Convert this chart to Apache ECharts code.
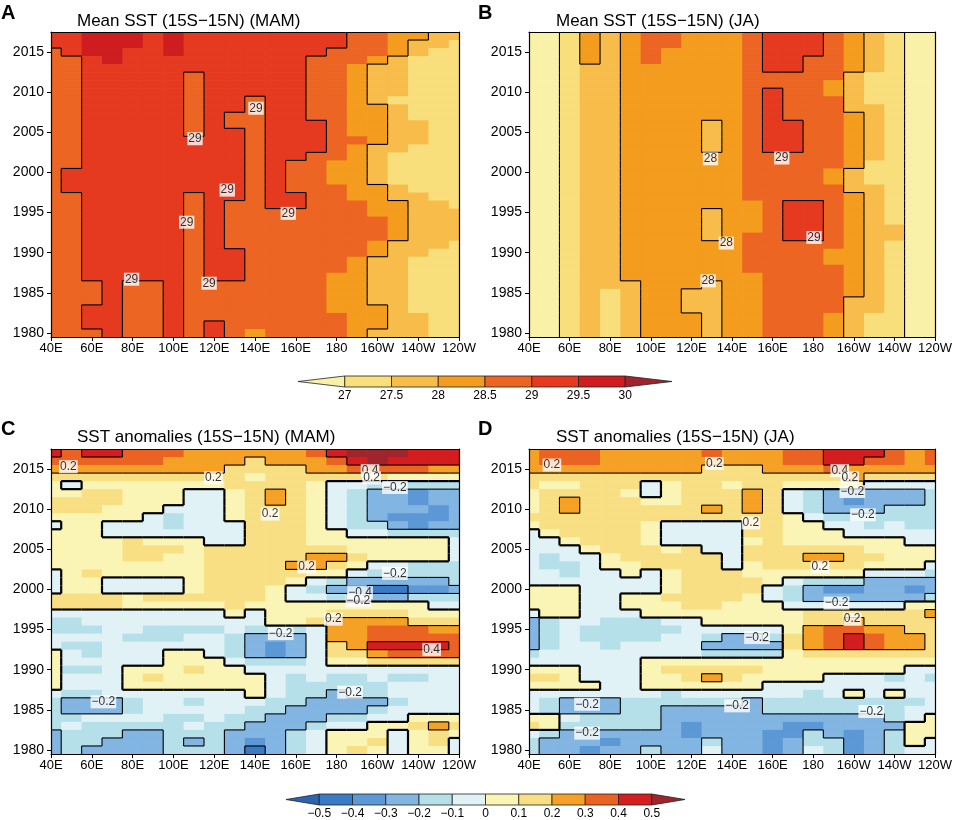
<!DOCTYPE html>
<html><head><meta charset="utf-8">
<script src="https://cdn.jsdelivr.net/npm/echarts@6/dist/echarts.min.js"></script>
<style>html,body{margin:0;padding:0;background:#fff}#c{width:955px;height:820px}</style>
</head><body><div id="c"></div>
<script>
// ---- grid coordinates ----
const lons = [40,50,60,70,80,90,100,110,120,130,140,150,160,170,180,190,200,210,220,230,240];
const years = [2017,2016,2015,2014,2013,2012,2011,2010,2009,2008,2007,2006,2005,2004,2003,2002,2001,2000,1999,1998,
               1997,1996,1995,1994,1993,1992,1991,1990,1989,1988,1987,1986,1985,1984,1983,1982,1981,1980];
const xTickLabels = ['40E','60E','80E','100E','120E','140E','160E','180','160W','140W','120W'];
const yTicks = [1980,1985,1990,1995,2000,2005,2010,2015];
const meanLevels = [27,27.5,28,28.5,29,29.5,30];
const anomLevels = [-0.5,-0.4,-0.3,-0.2,-0.1,0,0.1,0.2,0.3,0.4,0.5];
const meanContours = [29,28,27];
const anomContours = [0,0.2,-0.2,0.4,-0.4];

// ---- A: mean SST MAM (rows = years above, cols = lons) ----
const meanMAM = [
[29.2,29.2,29.7,29.7,29.7,29.2,29.7,29.2,29.2,29.2,29.2,29.2,29.2,29.2,29.2,28.8,28.8,28.3,28.3,27.8,27.8],
[29.2,29.2,29.7,29.7,29.7,29.2,29.7,29.2,29.2,29.2,29.2,29.2,29.2,29.2,29.2,28.8,28.8,28.3,27.8,27.8,27.3],
[28.8,29.2,29.7,29.7,29.2,29.2,29.7,29.2,29.2,29.2,29.2,29.2,29.2,29.2,28.8,28.8,28.8,28.3,27.8,27.3,27.3],
[28.8,28.8,29.2,29.7,29.2,29.2,29.2,29.2,29.2,29.2,29.2,29.2,29.2,28.8,28.8,28.8,28.3,27.8,27.3,27.3,27.3],
[28.8,28.8,29.2,29.2,29.2,29.2,29.2,29.2,29.2,29.2,29.2,29.2,29.2,28.8,28.8,28.3,27.8,27.8,27.3,27.3,27.3],
[28.8,28.8,29.2,29.2,29.2,29.2,29.2,28.8,29.2,29.2,29.2,29.2,29.2,28.8,28.8,28.3,27.8,27.8,27.3,27.3,27.3],
[28.8,28.8,29.2,29.2,29.2,29.2,29.2,28.8,29.2,29.2,29.2,29.2,29.2,28.8,28.8,28.3,27.8,27.8,27.3,27.3,27.3],
[28.8,28.8,29.2,29.2,29.2,29.2,29.2,28.8,29.2,29.2,29.2,29.2,29.2,28.8,28.8,28.3,27.8,27.8,27.3,27.3,27.3],
[28.8,28.8,29.2,29.2,29.2,29.2,29.2,28.8,29.2,29.2,28.8,29.2,29.2,28.8,28.8,28.3,27.8,27.3,27.3,27.3,27.3],
[28.8,28.8,29.2,29.2,29.2,29.2,29.2,28.8,29.2,29.2,28.8,29.2,29.2,28.8,28.8,28.3,28.3,27.8,27.3,27.3,27.3],
[28.8,28.8,29.2,29.2,29.2,29.2,29.2,28.8,29.2,28.8,28.8,29.2,29.2,28.8,28.8,28.3,28.3,27.8,27.3,27.3,27.3],
[28.8,28.8,29.2,29.2,29.2,29.2,29.2,28.8,29.2,28.8,28.8,29.2,29.2,29.2,28.8,28.3,28.3,27.8,27.8,27.3,27.3],
[28.8,28.8,29.2,29.2,29.2,29.2,29.2,28.8,29.2,29.2,28.8,29.2,29.2,29.2,28.8,28.3,28.3,27.8,27.8,27.3,27.3],
[28.8,28.8,29.2,29.2,29.2,29.2,29.2,29.2,29.2,29.2,28.8,29.2,29.2,29.2,28.8,28.8,28.3,27.8,27.8,27.3,27.3],
[28.8,28.8,29.2,29.2,29.2,29.2,29.2,29.2,29.2,29.2,28.8,29.2,29.2,29.2,28.8,28.3,27.8,27.8,27.3,27.3,27.3],
[28.8,28.8,29.2,29.2,29.2,29.2,29.2,29.2,29.2,29.2,28.8,29.2,29.2,28.8,28.8,28.3,27.8,27.3,27.3,27.3,27.3],
[28.8,28.8,29.2,29.2,29.2,29.2,29.2,29.2,29.2,29.2,28.8,29.2,28.8,28.8,28.3,28.3,27.8,27.3,27.3,27.3,27.3],
[28.8,29.2,29.2,29.2,29.2,29.2,29.2,29.2,29.2,29.2,28.8,29.2,28.8,28.8,28.3,28.3,27.8,27.3,27.3,27.3,27.3],
[28.8,29.2,29.2,29.2,29.2,29.2,29.2,29.2,29.2,29.2,28.8,29.2,28.8,28.8,28.3,28.3,27.8,27.3,27.3,27.3,27.3],
[28.8,29.2,29.2,29.2,29.2,29.2,29.2,29.2,29.2,29.2,28.8,29.2,28.8,28.8,28.8,28.3,28.3,27.8,27.3,27.3,27.3],
[28.8,28.8,29.2,29.2,29.2,29.2,29.2,28.8,29.2,29.2,28.8,29.2,29.2,28.8,28.8,28.3,28.3,27.8,27.8,27.3,27.3],
[28.8,28.8,29.2,29.2,29.2,29.2,29.2,28.8,29.2,28.8,28.8,29.2,29.2,28.8,28.8,28.8,28.3,28.3,27.8,27.8,27.3],
[28.8,28.8,29.2,29.2,29.2,29.2,29.2,28.8,29.2,28.8,28.8,28.8,28.8,28.8,28.8,28.8,28.3,28.3,27.8,27.8,27.8],
[28.8,28.8,29.2,29.2,29.2,29.2,29.2,28.8,29.2,28.8,28.8,28.8,28.8,28.8,28.8,28.8,28.8,28.3,27.8,27.8,27.8],
[28.8,28.8,29.2,29.2,29.2,29.2,29.2,28.8,29.2,28.8,28.8,28.8,28.8,28.8,28.8,28.8,28.8,28.3,27.8,27.8,27.8],
[28.8,28.8,29.2,29.2,29.2,29.2,29.2,28.8,29.2,28.8,28.8,28.8,28.8,28.8,28.8,28.8,28.8,28.3,27.8,27.8,27.8],
[28.8,28.8,29.2,29.2,29.2,29.2,29.2,28.8,29.2,28.8,28.8,28.8,28.8,28.8,28.8,28.8,28.3,27.8,27.8,27.8,27.3],
[28.8,28.8,29.2,29.2,29.2,29.2,29.2,28.8,29.2,29.2,28.8,28.8,28.8,28.8,28.8,28.8,28.3,27.8,27.8,27.3,27.3],
[28.8,28.8,29.2,29.2,29.2,29.2,29.2,28.8,29.2,29.2,28.8,28.8,28.8,28.8,28.8,28.3,27.8,27.8,27.3,27.3,27.3],
[28.8,28.8,29.2,29.2,29.2,29.2,29.2,28.8,29.2,29.2,28.8,28.8,28.8,28.8,28.8,28.3,27.8,27.8,27.3,27.3,27.3],
[28.8,28.8,29.2,29.2,29.2,29.2,29.2,28.8,29.2,29.2,28.8,28.8,28.8,28.8,28.3,28.3,27.8,27.8,27.3,27.3,27.3],
[28.8,28.8,28.8,29.2,28.8,28.8,29.2,28.8,28.8,28.8,28.8,28.8,28.8,28.8,28.3,28.3,27.8,27.8,27.3,27.3,27.3],
[28.8,28.8,28.8,29.2,28.8,28.8,29.2,28.8,28.8,28.8,28.8,28.8,28.8,28.8,28.3,28.3,27.8,27.8,27.3,27.3,27.3],
[28.8,28.8,28.8,29.2,28.8,28.8,29.2,28.8,28.8,28.8,28.8,28.8,28.8,28.8,28.3,28.3,27.8,27.8,27.3,27.3,27.3],
[28.8,28.8,29.2,29.2,28.8,28.8,29.2,28.8,28.8,28.8,28.8,28.8,28.8,28.8,28.3,28.3,28.3,27.8,27.3,27.3,27.3],
[28.8,28.8,29.2,29.2,28.8,28.8,29.2,28.8,28.8,28.8,28.8,28.8,28.8,28.8,28.8,28.3,28.3,27.8,27.8,27.3,27.3],
[28.8,28.8,29.2,29.2,28.8,28.8,29.2,28.8,29.2,28.8,28.8,28.8,28.8,28.8,28.8,28.3,28.3,27.8,27.8,27.3,27.3],
[28.8,28.8,28.8,29.2,28.8,28.8,29.2,28.8,29.2,28.8,28.3,28.8,28.8,28.8,28.8,28.3,27.8,27.8,27.8,27.3,27.3]
];

// ---- B: mean SST JA ----
const meanJA = [
[26.8,26.8,27.3,28.3,27.8,28.3,28.8,28.8,28.3,28.3,28.3,28.8,29.2,29.2,29.2,28.8,28.3,27.8,27.3,26.8,26.8],
[26.8,26.8,27.3,28.3,27.8,28.3,28.8,28.8,28.3,28.3,28.3,28.8,29.2,29.2,29.2,28.8,28.3,27.8,27.3,26.8,26.8],
[26.8,26.8,27.3,28.3,27.8,28.3,28.8,28.3,28.3,28.3,28.3,28.8,29.2,29.2,29.2,28.8,28.3,27.8,27.3,26.8,26.8],
[26.8,26.8,27.3,28.3,27.8,28.3,28.8,28.3,28.3,28.3,28.3,28.8,29.2,29.2,28.8,28.8,28.3,27.8,27.3,26.8,26.8],
[26.8,26.8,27.3,27.8,27.8,28.3,28.3,28.3,28.3,28.3,28.3,28.8,29.2,29.2,28.8,28.8,28.3,27.8,27.3,26.8,26.8],
[26.8,26.8,27.3,27.8,27.8,28.3,28.3,28.3,28.3,28.3,28.3,28.8,28.8,28.8,28.8,28.8,27.8,27.3,27.3,26.8,26.8],
[26.8,26.8,27.3,27.8,27.8,28.3,28.3,28.3,28.3,28.3,28.3,28.8,28.8,28.8,28.8,28.3,27.8,27.3,27.3,26.8,26.8],
[26.8,26.8,27.3,27.8,27.8,28.3,28.3,28.3,28.3,28.3,28.3,28.8,29.2,28.8,28.8,28.3,27.8,27.3,27.3,26.8,26.8],
[26.8,26.8,27.3,27.8,27.8,28.3,28.3,28.3,28.3,28.3,28.3,28.8,29.2,28.8,28.8,28.8,27.8,27.3,27.3,26.8,26.8],
[26.8,26.8,27.3,27.8,27.8,28.3,28.3,28.3,28.3,28.3,28.3,28.8,29.2,28.8,28.8,28.8,27.8,27.8,27.3,26.8,26.8],
[26.8,26.8,27.3,27.8,27.8,28.3,28.3,28.3,28.3,28.3,28.3,28.8,29.2,28.8,28.8,28.8,28.3,27.8,27.3,26.8,26.8],
[26.8,26.8,27.3,27.8,27.8,28.3,28.3,28.3,28.3,27.8,28.3,28.8,29.2,29.2,28.8,28.8,28.3,27.8,27.3,26.8,26.8],
[26.8,26.8,27.3,27.8,27.8,28.3,28.3,28.3,28.3,27.8,28.3,28.8,29.2,29.2,28.8,28.8,28.3,27.8,27.3,26.8,26.8],
[26.8,26.8,27.3,27.8,27.8,28.3,28.3,28.3,28.3,27.8,28.3,28.8,29.2,29.2,28.8,28.8,28.3,27.8,27.3,26.8,26.8],
[26.8,26.8,27.3,27.8,27.8,28.3,28.3,28.3,28.3,27.8,28.3,28.8,29.2,29.2,28.8,28.8,28.3,27.8,27.3,26.8,26.8],
[26.8,26.8,27.3,27.8,27.8,28.3,28.3,28.3,28.3,28.3,28.3,28.8,28.8,28.8,28.8,28.8,28.3,27.8,27.3,26.8,26.8],
[26.8,26.8,27.3,27.8,27.8,28.3,28.3,28.3,28.3,28.3,28.3,28.8,28.8,28.8,28.8,28.8,28.3,27.3,27.3,26.8,26.8],
[26.8,26.8,27.3,27.8,27.8,28.3,28.3,28.3,28.3,28.3,28.3,28.8,28.8,28.8,28.8,28.3,27.8,27.3,27.3,26.8,26.8],
[26.8,26.8,27.3,27.8,27.8,28.3,28.3,28.3,28.3,28.3,28.3,28.8,28.8,28.8,28.8,28.3,27.8,27.3,27.3,26.8,26.8],
[26.8,26.8,27.3,27.8,27.8,28.3,28.3,28.3,28.3,28.3,28.3,28.8,28.8,28.8,28.8,28.8,27.8,27.8,27.3,26.8,26.8],
[26.8,26.8,27.3,27.8,27.8,28.3,28.3,28.3,28.3,28.3,28.3,28.8,28.8,28.8,28.8,28.8,28.3,27.8,27.3,26.8,26.8],
[26.8,26.8,27.3,27.8,27.8,28.3,28.3,28.3,28.3,28.3,28.3,28.3,28.8,29.2,29.2,28.8,28.3,27.8,27.3,26.8,26.8],
[26.8,26.8,27.3,27.8,27.8,28.3,28.3,28.3,28.3,27.8,28.3,28.3,28.8,29.2,29.2,28.8,28.3,27.8,27.3,26.8,26.8],
[26.8,26.8,27.3,27.8,27.8,28.3,28.3,28.3,28.3,27.8,28.3,28.3,28.8,29.2,29.2,28.8,28.3,27.8,27.3,26.8,26.8],
[26.8,26.8,27.3,27.8,27.8,28.3,28.3,28.3,28.3,27.8,28.3,28.3,28.8,29.2,29.2,28.8,28.3,27.8,27.8,26.8,26.8],
[26.8,26.8,27.3,27.8,27.8,28.3,28.3,28.3,28.3,27.8,28.3,28.8,28.8,29.2,29.2,28.8,28.3,27.8,27.8,26.8,26.8],
[26.8,26.8,27.3,27.8,27.8,28.3,28.3,28.3,28.3,28.3,28.3,28.8,28.8,28.8,28.8,28.8,28.3,27.8,27.3,26.8,26.8],
[26.8,26.8,27.3,27.8,27.8,28.3,28.3,28.3,28.3,28.3,28.3,28.8,28.8,28.8,28.8,28.3,28.3,27.8,27.3,26.8,26.8],
[26.8,26.8,27.3,27.8,27.8,28.3,28.3,28.3,28.3,28.3,28.3,28.8,28.8,28.8,28.8,28.3,28.3,27.8,27.3,26.8,26.8],
[26.8,26.8,27.3,27.8,27.8,28.3,28.3,28.3,28.3,28.3,28.3,28.8,28.8,28.8,28.8,28.8,28.3,27.8,27.3,26.8,26.8],
[26.8,26.8,27.3,27.8,27.8,28.3,28.3,28.3,28.3,28.3,28.3,28.3,28.8,28.8,28.8,28.8,28.3,27.8,27.3,26.8,26.8],
[26.8,26.8,27.3,27.8,27.8,27.8,28.3,28.3,28.3,27.8,28.3,28.3,28.8,28.8,28.8,28.8,28.3,27.8,27.3,26.8,26.8],
[26.8,26.8,27.3,27.8,27.3,27.8,28.3,28.3,27.8,27.8,28.3,28.3,28.8,28.8,28.8,28.8,28.3,27.8,27.3,26.8,26.8],
[26.8,26.8,27.3,27.8,27.3,27.8,28.3,28.3,27.8,27.8,28.3,28.3,28.8,28.8,28.8,28.8,27.8,27.8,27.3,26.8,26.8],
[26.8,26.8,27.3,27.8,27.3,27.8,28.3,28.3,27.8,27.8,28.3,28.3,28.8,28.8,28.8,28.8,27.8,27.8,27.3,26.8,26.8],
[26.8,26.8,27.3,27.8,27.3,27.8,28.3,28.3,28.3,27.8,28.3,28.3,28.8,28.8,28.8,28.3,27.8,27.3,27.3,26.8,26.8],
[26.8,26.8,27.3,27.8,27.3,27.8,28.3,28.3,28.3,27.8,28.3,28.3,28.8,28.8,28.8,28.3,27.8,27.3,27.3,26.8,26.8],
[26.8,26.8,27.3,27.8,27.3,27.8,28.3,28.3,28.3,27.8,28.3,28.3,28.8,28.8,28.8,28.3,27.8,27.3,27.3,26.8,26.8]
];

// ---- C: SST anomalies MAM ----
const anomMAM = [
[.45,.35,.45,.45,.35,.35,.35,.25,.25,.25,.25,.25,.25,.35,.45,.55,.55,.55,.45,.45,.45],
[.35,.35,.35,.35,.35,.35,.25,.25,.25,.25,.15,.25,.25,.25,.35,.45,.55,.45,.45,.45,.45],
[.25,.25,.25,.25,.25,.25,.25,.25,.25,.15,.15,.15,.15,.25,.25,.35,.35,.35,.35,.25,.25],
[.15,.15,.15,.15,.15,.15,.15,.15,.15,.15,.05,.15,.15,.15,.15,.15,.15,.05,.05,.05,.05],
[.05,-.05,.05,.05,.05,.05,.05,.05,.05,.15,.15,.15,.15,.05,-.05,-.05,-.15,-.15,-.15,-.15,-.15],
[.05,.05,.15,.15,.05,.05,.05,-.05,-.05,.05,.15,.25,.15,.05,-.05,-.15,-.25,-.25,-.35,-.25,-.25],
[.15,.15,.15,.15,.05,.05,.05,-.05,-.05,.05,.15,.25,.15,.05,-.05,-.15,-.25,-.25,-.35,-.25,-.25],
[.15,.15,.15,.05,.05,.05,-.05,-.05,-.05,.05,.15,.15,.15,.05,-.05,-.15,-.25,-.25,-.25,-.35,-.25],
[.05,.05,.05,.05,.05,-.05,-.15,-.05,-.05,.05,.15,.15,.15,.05,-.05,-.15,-.25,-.35,-.35,-.35,-.25],
[-.05,.05,.05,-.05,-.05,-.05,-.15,-.05,-.05,-.05,.15,.15,.15,.05,-.05,-.15,-.15,-.25,-.35,-.25,-.25],
[.05,.05,.05,-.05,-.05,-.05,-.05,-.05,-.05,-.05,.15,.15,.15,.05,.05,-.05,-.05,-.15,-.15,-.15,-.15],
[.05,.05,.05,.05,.15,.05,.05,.05,-.05,-.05,.15,.15,.15,.05,.05,.05,.05,.05,.05,.05,-.05],
[.05,.05,.05,.05,.15,.15,.15,.05,.15,.15,.15,.15,.15,.15,.15,.05,.05,.05,.05,.05,-.05],
[.05,.05,.05,.05,.15,.15,.05,.05,.15,.15,.15,.15,.15,.25,.25,.15,.05,.05,.05,.05,-.05],
[.05,.05,.05,.05,.05,.05,.05,.05,.15,.15,.15,.15,.25,.25,.15,.05,-.05,-.05,-.15,-.15,-.15],
[-.05,.05,.15,.05,.05,.05,.05,.05,.15,.15,.15,.15,.15,.05,.05,-.05,-.15,-.15,-.15,-.15,-.15],
[-.05,.05,.05,-.05,-.05,-.05,-.05,.05,.15,.15,.15,.15,.05,-.05,-.15,-.25,-.25,-.25,-.25,-.25,-.15],
[-.05,.05,.05,-.05,-.05,-.05,-.05,.05,.15,.15,.15,.05,-.05,-.15,-.25,-.35,-.45,-.45,-.35,-.35,-.25],
[.15,.15,.15,.15,.05,.15,.15,.15,.15,.15,.15,.05,-.05,-.05,-.15,-.25,-.25,-.25,-.15,-.15,-.15],
[.15,.15,.15,.15,.05,.05,.05,.05,.05,.15,.05,.05,.05,.05,.05,.05,.05,.05,.05,-.05,-.05],
[-.05,-.05,-.05,-.05,-.05,-.05,-.05,-.05,-.05,.05,-.05,.05,.05,.05,.15,.15,.15,.15,.05,.05,.05],
[-.15,-.15,-.05,-.05,-.05,-.05,-.05,-.05,-.05,-.05,-.05,.05,.05,.15,.25,.25,.25,.25,.15,.15,.15],
[-.15,-.15,-.15,-.05,-.05,-.15,-.15,-.15,-.15,-.05,-.15,-.15,-.15,-.05,.25,.25,.35,.35,.35,.25,.25],
[-.05,-.05,-.05,-.05,-.15,-.15,-.15,-.05,-.05,-.15,-.25,-.25,-.25,-.05,.25,.25,.35,.35,.35,.35,.35],
[-.05,-.15,-.15,-.05,-.05,-.05,-.05,-.05,-.05,-.15,-.25,-.35,-.25,-.05,.15,.25,.45,.45,.45,.45,.35],
[.05,-.05,-.15,-.05,-.05,-.05,.05,.05,-.05,-.15,-.25,-.35,-.25,-.05,.15,.15,.25,.35,.35,.35,.35],
[.05,-.05,-.05,-.05,-.05,-.05,.05,.05,.05,-.05,-.15,-.15,-.15,-.05,.05,.05,.15,.15,.15,.15,.15],
[.05,-.15,-.15,-.05,.05,.05,.05,.15,.05,.05,-.05,-.05,-.05,-.05,-.05,-.05,-.05,-.05,-.05,-.05,-.05],
[.05,-.05,-.05,-.05,.05,.15,.05,.05,.05,.05,.05,-.05,-.15,-.05,-.15,-.15,-.05,-.15,-.15,-.05,-.05],
[.05,-.05,-.05,-.05,.05,.05,.05,.05,.05,.05,.05,-.05,-.15,-.15,-.15,-.15,-.15,-.05,-.05,-.05,-.05],
[-.05,-.15,-.15,-.05,-.05,-.05,-.05,-.05,-.05,-.05,.05,-.05,-.15,-.15,-.25,-.15,-.15,-.05,-.05,-.05,-.05],
[-.15,-.25,-.25,-.25,-.15,-.05,-.05,-.15,-.05,-.05,-.05,-.15,-.15,-.25,-.25,-.25,-.25,-.15,-.05,-.05,-.05],
[-.15,-.25,-.25,-.25,-.15,-.05,-.05,-.05,-.05,-.05,-.15,-.15,-.25,-.25,-.25,-.25,-.15,-.05,-.05,-.05,-.05],
[-.15,-.15,-.05,-.05,-.05,-.05,-.15,-.15,-.05,-.15,-.15,-.25,-.25,-.25,-.15,-.15,-.05,-.05,.05,.05,.05],
[-.15,-.05,-.15,-.15,-.15,-.15,-.15,-.05,-.15,-.15,-.25,-.25,-.25,-.15,-.05,-.05,.05,.05,.15,.25,.15],
[-.25,-.15,-.15,-.15,-.25,-.25,-.15,-.15,-.15,-.25,-.25,-.25,-.15,-.05,.05,.05,.05,-.05,.05,.15,.05],
[-.25,-.15,-.15,-.25,-.25,-.25,-.15,-.25,-.15,-.25,-.35,-.25,-.15,-.05,.05,.05,.15,-.05,.05,.15,-.05],
[-.25,-.15,-.25,-.25,-.25,-.25,-.15,-.15,-.15,-.25,-.45,-.25,-.15,-.05,.05,.15,.05,-.05,.05,.05,-.05]
];

// ---- D: SST anomalies JA ----
const anomJA = [
[.25,.35,.35,.35,.25,.25,.25,.25,.25,.35,.25,.25,.25,.35,.35,.45,.45,.45,.35,.25,.35],
[.25,.35,.35,.35,.25,.25,.25,.25,.25,.25,.25,.25,.25,.35,.35,.45,.45,.35,.35,.25,.35],
[.25,.25,.25,.25,.25,.25,.25,.25,.25,.15,.15,.15,.25,.25,.25,.35,.25,.25,.25,.25,.25],
[.15,.15,.15,.15,.15,.15,.15,.15,.15,.15,.15,.15,.15,.15,.15,.15,.25,.15,.15,.15,.15],
[.15,.05,.05,.15,.15,.15,-.05,.05,.15,.15,.05,.15,.15,.05,.05,.05,.05,-.05,-.05,-.05,-.05],
[.05,.15,.15,.15,.15,.05,-.05,.05,.15,.15,.15,.25,.15,-.05,-.15,-.25,-.25,-.25,-.25,-.25,-.15],
[.05,.15,.25,.15,.15,.15,.05,.05,.15,.15,.15,.25,.15,-.05,-.15,-.25,-.35,-.25,-.25,-.25,-.15],
[.05,.15,.25,.15,.15,.15,.15,.15,.15,.25,.15,.25,.15,-.05,-.15,-.25,-.25,-.25,-.15,-.15,-.15],
[.15,.15,.15,.15,.15,.15,.15,.15,.15,.15,.15,.15,.15,.05,-.05,-.15,-.15,-.15,-.15,-.15,-.15],
[.05,.15,.15,.15,.15,.15,.05,-.05,-.05,-.05,-.05,.15,.15,.05,.05,-.05,-.05,-.15,-.05,-.15,-.15],
[-.05,.05,.15,.15,.15,.15,.05,-.05,-.05,-.05,-.05,.15,.15,.05,.05,.05,-.05,-.05,-.05,-.05,-.05],
[-.05,-.05,.05,.15,.15,.15,.05,-.05,-.05,-.05,-.05,.05,.15,.05,.05,.05,.05,.05,.05,-.05,-.05],
[-.05,-.05,-.05,.05,.15,.15,.15,.05,.15,-.05,-.05,.15,.15,.15,.15,.15,.15,.05,.05,.05,.05],
[-.05,-.15,-.05,-.05,.05,.15,.15,.15,.15,.15,-.05,.15,.15,.15,.25,.25,.15,.15,.05,.05,.05],
[-.05,-.15,-.15,-.05,.05,.05,.15,.15,.15,.15,-.05,.05,.15,.15,.15,.15,.15,.05,.05,.05,-.05],
[-.05,-.05,-.15,-.05,-.05,.05,-.05,.05,.15,.15,.15,.05,.05,.05,.05,.05,.05,-.05,-.05,-.05,-.15],
[-.05,-.05,-.05,-.05,-.05,-.05,-.05,.05,.15,.15,.15,.15,.05,-.05,-.15,-.15,-.15,-.25,-.25,-.25,-.25],
[.05,.05,.05,-.05,-.05,-.05,-.05,.05,.15,.15,.15,.15,-.05,-.15,-.25,-.35,-.35,-.25,-.25,-.35,-.25],
[.05,.05,.05,-.05,-.05,.05,.05,.15,.15,.15,.15,.05,-.05,-.15,-.25,-.25,-.25,-.25,-.25,-.25,-.15],
[.05,.05,.05,-.05,-.05,.05,.05,.05,.15,.15,.05,.05,.05,-.05,-.05,-.05,-.05,-.05,-.05,.05,.05],
[-.05,.05,.05,-.05,-.05,-.05,.05,.05,.05,.05,.05,.05,.05,.05,.15,.15,.15,.15,.15,.15,.25],
[-.25,-.15,-.05,-.05,-.15,-.15,-.15,-.05,-.05,.05,.05,.05,.05,.05,.15,.15,.25,.15,.15,.15,.15],
[-.25,-.15,-.05,-.15,-.15,-.15,-.15,-.15,-.05,-.05,-.05,-.05,-.05,.05,.25,.35,.35,.25,.25,.15,.15],
[-.25,-.15,-.05,-.15,-.15,-.15,-.15,-.05,-.05,-.15,-.25,-.25,-.15,.15,.25,.35,.45,.35,.25,.25,.15],
[-.25,-.15,-.05,-.05,-.15,-.05,-.05,-.05,-.05,-.25,-.25,-.25,-.25,.15,.25,.35,.45,.35,.25,.25,.15],
[-.15,-.05,-.05,-.05,-.05,-.05,-.05,-.05,-.05,-.15,-.15,-.15,-.15,.05,.15,.15,.15,.15,.15,.15,.15],
[-.05,-.05,-.05,-.05,-.05,-.05,.05,.05,.05,.05,.05,.05,.05,.05,.05,.05,.05,.05,.05,.05,.05],
[.05,.05,.05,-.05,-.05,-.05,.05,.15,.15,.15,.15,.15,.05,.05,.05,.05,.05,.05,.05,-.05,-.05],
[.15,.15,.05,-.05,-.05,-.05,.05,.05,.15,.25,.15,.05,.05,.05,.05,-.05,-.05,-.05,-.15,-.05,-.15],
[.05,.05,.05,.05,-.05,-.05,.05,.05,.05,.05,.05,.05,-.05,-.05,-.05,-.05,-.05,-.05,-.05,-.05,-.05],
[-.05,-.05,-.05,-.05,-.05,-.05,-.05,-.15,-.05,-.05,-.05,-.05,-.05,-.05,-.15,-.05,.05,-.05,.05,-.05,-.05],
[-.05,-.15,-.25,-.25,-.25,-.15,-.15,-.15,-.15,-.15,-.15,-.25,-.15,-.15,-.15,-.15,-.15,-.15,-.15,-.15,-.05],
[-.05,-.15,-.25,-.25,-.25,-.15,-.15,-.25,-.25,-.25,-.25,-.25,-.15,-.15,-.15,-.15,-.15,-.15,-.15,-.05,-.05],
[.05,.05,-.05,-.15,-.15,-.15,-.15,-.25,-.25,-.25,-.25,-.25,-.25,-.25,-.25,-.25,-.25,-.25,-.15,-.05,.05],
[.15,.05,-.15,-.15,-.15,-.15,-.15,-.25,-.35,-.25,-.25,-.25,-.25,-.35,-.35,-.25,-.25,-.25,-.25,.05,.05],
[-.05,-.15,-.25,-.25,-.25,-.25,-.25,-.25,-.35,-.25,-.25,-.25,-.35,-.35,-.15,-.25,-.35,-.25,-.15,.05,.05],
[-.15,-.25,-.25,-.25,-.35,-.25,-.25,-.25,-.25,-.15,-.25,-.25,-.35,-.25,-.15,-.15,-.35,-.25,-.15,.05,-.05],
[-.15,-.25,-.25,-.35,-.25,-.25,-.15,-.25,-.25,-.05,-.25,-.25,-.35,-.25,-.05,-.15,-.35,-.25,-.15,-.05,-.05]
];

// ---- contour labels [lon, year, text] ----
const labelsA = [[79.5,1986.7,'29'],[110.6,2004.2,'29'],[140.5,2008.0,'29'],[126.4,1997.8,'29'],[106.5,1993.8,'29'],[117.5,1986.2,'29'],[156.3,1994.9,'29']];
const labelsB = [[129.4,2001.7,'28'],[164.5,2001.8,'29'],[137.2,1991.2,'28'],[180.4,1991.9,'29'],[128.2,1986.5,'28']];
const labelsC = [[48.5,2015.3,'0.2'],[119.6,2013.9,'0.2'],[147.4,2009.4,'0.2'],[196.4,2014.8,'0.4'],[197.2,2013.9,'0.2'],[208.6,2012.7,'\u22120.2'],
  [165.3,2002.8,'0.2'],[208.6,2002.0,'\u22120.2'],[191.5,1999.6,'\u22120.4'],[190.7,1998.6,'\u22120.2'],[178.4,1996.3,'0.2'],[152.6,1994.5,'\u22120.2'],
  [226.6,1992.5,'0.4'],[65.7,1986.0,'\u22120.2'],[186.6,1987.2,'\u22120.2']];
const labelsD = [[51.3,2015.5,'0.2'],[131.3,2015.7,'0.2'],[193.1,2014.8,'0.4'],[198.0,2013.9,'0.2'],[199.3,2012.2,'\u22120.2'],[204.5,2009.3,'\u22120.2'],
  [149.3,2008.3,'0.2'],[183.3,2002.8,'0.2'],[191.5,1998.3,'\u22120.2'],[199.2,1996.3,'0.2'],[152.3,1994.0,'\u22120.2'],[68.6,1985.7,'\u22120.2'],
  [68.6,1982.1,'\u22120.2'],[142.5,1985.5,'\u22120.2'],[208.6,1984.8,'\u22120.2']];

// ---- styles ----
const meanColors = ['#f9f1a8','#f9de7c','#f7bc4a','#f49c1e','#ec6523','#e53a1f','#cf1c1f','#a1232b'];
const anomColors = ['#2b65b0','#3a79c3','#5b98d5','#82b5e1','#b5e0ea','#e1f2f7','#fbf5b5','#f9df84','#f5a126','#eb6322','#d31d1e','#a0242b'];
const FONT = '"Liberation Sans", Arial, Helvetica, sans-serif';

function pieces(levels, colors){
  const p = [{lt: levels[0], color: colors[0]}];
  for (let i = 0; i < levels.length - 1; i++) p.push({gte: levels[i], lt: levels[i+1], color: colors[i+1]});
  p.push({gte: levels[levels.length-1], color: colors[levels.length]});
  return p;
}
function cells(mat){
  const out = [];
  mat.forEach((row, i) => row.forEach((v, j) => out.push([lons[j], years[i], v])));
  return out;
}
function cellRender(params, api){
  const x = api.value(0), y = api.value(1);
  const p0 = api.coord([x - 5, y + 0.5]), p1 = api.coord([x + 5, y - 0.5]);
  const cs = params.coordSys;
  const r = echarts.graphic.clipRectByRect(
    {x: p0[0], y: p0[1], width: p1[0] - p0[0] + 0.7, height: p1[1] - p0[1] + 0.7},
    {x: cs.x, y: cs.y, width: cs.width, height: cs.height});
  if (!r) return;
  return {type: 'rect', shape: r, style: {fill: api.visual('color')}};
}
// contour edges between neighbouring cells whose values lie on different sides of a contour level
function edgeRender(mat, levels){
  const nc = lons.length, nr = years.length;
  const cross = (a, b) => levels.find(L => (a - L) * (b - L) < 0);
  const seg = (p0, p1, L) => ({type: 'line', shape: {x1: p0[0], y1: p0[1], x2: p1[0], y2: p1[1]},
    style: {stroke: '#000', lineWidth: L === 0 ? 2.2 : 1.1, lineCap: 'butt'}});
  return function(params, api){
    const k = params.dataIndex, i = Math.floor(k / nc), j = k % nc;
    const v = mat[i][j], x = lons[j], y = years[i];
    const ch = [];
    if (j < nc - 1) {
      const L = cross(v, mat[i][j+1]);
      if (L !== undefined) ch.push(seg(api.coord([x + 5, y + 0.5]), api.coord([x + 5, y - 0.5]), L));
    }
    if (i < nr - 1) {
      const L = cross(v, mat[i+1][j]);
      if (L !== undefined) ch.push(seg(api.coord([Math.max(x - 5, 40), y - 0.5]), api.coord([Math.min(x + 5, 240), y - 0.5]), L));
    }
    return {type: 'group', children: ch};
  };
}
function barItems(levels, half){
  const it = [[levels[0] - half, levels[0], 0, 1]];
  for (let i = 0; i < levels.length - 1; i++) it.push([levels[i], levels[i+1], i + 1, 0]);
  it.push([levels[levels.length-1], levels[levels.length-1] + half, levels.length, 2]);
  return it;
}
function barRender(colors){
  return function(params, api){
    const lo = api.value(0), hi = api.value(1), idx = api.value(2), kind = api.value(3);
    const a = api.coord([lo, 1]), b = api.coord([hi, 0]);
    const mid = (a[1] + b[1]) / 2;
    const style = {fill: colors[idx], stroke: '#222', lineWidth: 0.8};
    if (kind === 1) return {type: 'polygon', shape: {points: [[a[0], mid], [b[0], a[1]], [b[0], b[1]]]}, style};
    if (kind === 2) return {type: 'polygon', shape: {points: [[a[0], a[1]], [b[0], mid], [a[0], b[1]]]}, style};
    return {type: 'rect', shape: {x: a[0], y: a[1], width: b[0] - a[0], height: b[1] - a[1]}, style};
  };
}
const minus = v => (v < 0 ? '\u2212' + Math.abs(v).toFixed(1) : (v === 0 ? '0' : v.toFixed(1)));

const panels = [
  {left: 51, top: 32, data: meanMAM, labels: labelsA, lev: meanContours},
  {left: 529, top: 32, data: meanJA, labels: labelsB, lev: meanContours},
  {left: 51, top: 449, data: anomMAM, labels: labelsC, lev: anomContours},
  {left: 529, top: 449, data: anomJA, labels: labelsD, lev: anomContours}
];
const grid = [], xAxis = [], yAxis = [], series = [];
const axisLineStyle = {show: true, lineStyle: {color: '#000', width: 1.2}};
panels.forEach((p, i) => {
  grid.push({left: p.left, top: p.top, width: 408, height: 305});
  xAxis.push({gridIndex: i, type: 'value', min: 40, max: 240, interval: 20, position: 'bottom', z: 10,
    axisLine: axisLineStyle, axisTick: {show: true, length: 4, lineStyle: {color: '#000'}},
    splitLine: {show: false},
    axisLabel: {color: '#000', fontSize: 13, margin: 5, fontFamily: FONT,
      formatter: v => xTickLabels[Math.round((v - 40) / 20)]}});
  xAxis.push({gridIndex: i, type: 'value', min: 40, max: 240, position: 'top', z: 10,
    axisLine: axisLineStyle, axisTick: {show: false}, axisLabel: {show: false}, splitLine: {show: false}});
  yAxis.push({gridIndex: i, type: 'value', min: 1979.5, max: 2017.5, position: 'left', z: 10,
    axisLine: axisLineStyle, splitLine: {show: false},
    axisTick: {show: true, length: 4, customValues: yTicks, lineStyle: {color: '#000'}},
    axisLabel: {color: '#000', fontSize: 14, margin: 7, fontFamily: FONT, customValues: yTicks, formatter: v => String(v)}});
  yAxis.push({gridIndex: i, type: 'value', min: 1979.5, max: 2017.5, position: 'right', z: 10,
    axisLine: axisLineStyle, axisTick: {show: false}, axisLabel: {show: false}, splitLine: {show: false}});
  series.push({type: 'custom', xAxisIndex: 2*i, yAxisIndex: 2*i, renderItem: cellRender,
    data: cells(p.data), encode: {x: 0, y: 1}, z: 2, silent: true});
});
panels.forEach((p, i) => {
  series.push({type: 'custom', xAxisIndex: 2*i, yAxisIndex: 2*i, renderItem: edgeRender(p.data, p.lev),
    data: cells(p.data), encode: {x: 0, y: 1}, z: 5, silent: true});
});
panels.forEach((p, i) => {
  series.push({type: 'scatter', xAxisIndex: 2*i, yAxisIndex: 2*i, symbolSize: 0, z: 20, silent: true,
    data: p.labels,
    label: {show: true, position: 'inside', formatter: q => q.value[2], color: '#000', fontSize: 12,
      fontFamily: FONT, backgroundColor: '#fff', padding: [1, 1, 0, 1]}});
});
// colour bars
grid.push({left: 298, top: 376, width: 374, height: 11});
grid.push({left: 286, top: 794, width: 399, height: 11});
xAxis.push({gridIndex: 4, type: 'value', min: 26.5, max: 30.5, axisLine: {show: false}, axisTick: {show: false},
  splitLine: {show: false},
  axisLabel: {color: '#000', fontSize: 12, margin: 3, fontFamily: FONT, customValues: meanLevels, formatter: v => String(v)}});
xAxis.push({gridIndex: 5, type: 'value', min: -0.6, max: 0.6, axisLine: {show: false}, axisTick: {show: false},
  splitLine: {show: false},
  axisLabel: {color: '#000', fontSize: 12, margin: 3, fontFamily: FONT, customValues: anomLevels, formatter: minus}});
yAxis.push({gridIndex: 4, type: 'value', min: 0, max: 1, show: false});
yAxis.push({gridIndex: 5, type: 'value', min: 0, max: 1, show: false});
series.push({type: 'custom', xAxisIndex: 8, yAxisIndex: 8, renderItem: barRender(meanColors),
  data: barItems(meanLevels, 0.5), encode: {x: [0, 1]}, silent: true});
series.push({type: 'custom', xAxisIndex: 9, yAxisIndex: 9, renderItem: barRender(anomColors),
  data: barItems(anomLevels, 0.1), encode: {x: [0, 1]}, silent: true});

const titleStyle = {fontSize: 17, fontFamily: FONT, fill: '#000'};
const letterStyle = {fontSize: 20, fontWeight: 'bold', fontFamily: FONT, fill: '#000'};
const chart = echarts.init(document.getElementById('c'), null, {renderer: 'canvas'});
chart.setOption({
  animation: false,
  backgroundColor: '#fff',
  textStyle: {fontFamily: FONT},
  grid, xAxis, yAxis, series,
  visualMap: [
    {type: 'piecewise', show: false, seriesIndex: [0, 1], dimension: 2, pieces: pieces(meanLevels, meanColors)},
    {type: 'piecewise', show: false, seriesIndex: [2, 3], dimension: 2, pieces: pieces(anomLevels, anomColors)}
  ],
  graphic: [
    {type: 'text', left: 1, top: 3, style: Object.assign({text: 'A'}, letterStyle)},
    {type: 'text', left: 478, top: 3, style: Object.assign({text: 'B'}, letterStyle)},
    {type: 'text', left: 1, top: 419, style: Object.assign({text: 'C'}, letterStyle)},
    {type: 'text', left: 478, top: 419, style: Object.assign({text: 'D'}, letterStyle)},
    {type: 'text', left: 77, top: 13, style: Object.assign({text: 'Mean SST (15S\u221215N) (MAM)'}, titleStyle)},
    {type: 'text', left: 556, top: 13, style: Object.assign({text: 'Mean SST (15S\u221215N) (JA)'}, titleStyle)},
    {type: 'text', left: 77, top: 429, style: Object.assign({text: 'SST anomalies (15S\u221215N) (MAM)'}, titleStyle)},
    {type: 'text', left: 556, top: 429, style: Object.assign({text: 'SST anomalies (15S\u221215N) (JA)'}, titleStyle)}
  ]
});
</script></body></html>
